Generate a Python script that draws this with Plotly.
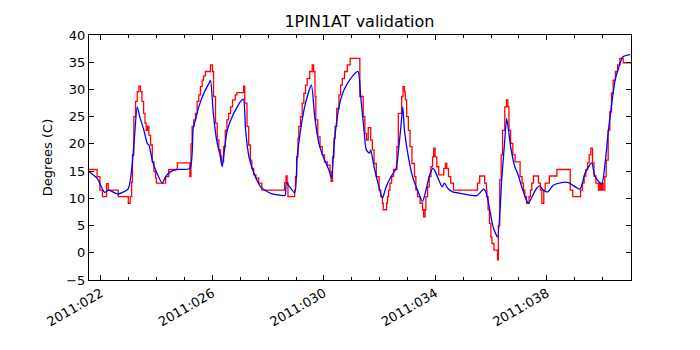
import plotly.graph_objects as go

# day of year 2011 (fractional) vs temperature
red_day = [21.57, 21.86, 21.96, 22.05, 22.20, 22.26, 22.62, 22.98, 23.05, 23.10,
           23.13, 23.18, 23.24, 23.30, 23.36, 23.42, 23.47, 23.53, 23.58, 23.62,
           23.67, 23.72, 23.78, 23.84, 23.90, 23.96, 23.99, 24.32, 24.43, 24.74,
           25.19, 25.23, 25.27, 25.33, 25.39, 25.45, 25.51, 25.57, 25.63, 25.68,
           25.75, 25.93, 26.00, 26.04, 26.11, 26.17, 26.23, 26.29, 26.33, 26.40,
           26.46, 26.52, 26.58, 26.65, 26.72, 26.82, 26.88, 27.12, 27.16, 27.24,
           27.30, 27.36, 27.41, 27.48, 27.56, 27.66, 27.77, 28.59, 28.64, 28.68,
           28.71, 28.95, 28.98, 29.02, 29.07, 29.10, 29.16, 29.22, 29.28, 29.34,
           29.40, 29.49, 29.58, 29.63, 29.68, 29.71, 29.78, 29.86, 29.94, 30.02,
           30.12, 30.22, 30.26, 30.31, 30.36, 30.40, 30.46, 30.54, 30.60, 30.66,
           30.74, 30.84, 30.94, 31.29, 31.41, 31.47, 31.53, 31.59, 31.68, 31.74,
           31.80, 31.88, 31.98, 32.04, 32.10, 32.13, 32.25, 32.28, 32.32, 32.37,
           32.43, 32.50, 32.62, 32.67, 32.79, 32.84, 32.89, 32.92, 32.97, 33.03,
           33.09, 33.16, 33.25, 33.30, 33.36, 33.45, 33.54, 33.58, 33.63, 33.66,
           33.72, 33.78, 33.84, 33.90, 33.94, 33.99, 34.05, 34.12, 34.30, 34.36,
           34.41, 34.47, 34.55, 34.65, 35.51, 35.59, 35.77, 35.83, 35.85, 35.89,
           35.94, 35.99, 36.03, 36.10, 36.23, 36.26, 36.31, 36.36, 36.41, 36.49,
           36.55, 36.60, 36.64, 36.70, 36.78, 36.86, 37.04, 37.11, 37.16, 37.21,
           37.27, 37.36, 37.41, 37.46, 37.52, 37.70, 37.77, 37.82, 37.89, 37.94,
           38.09, 38.36, 38.84, 38.93, 39.21, 39.28, 39.34, 39.40, 39.46, 39.52,
           39.58, 39.64, 39.69, 39.76, 39.85, 39.90, 39.94, 39.98, 40.02, 40.08,
           40.13, 40.20, 40.26, 40.32, 40.38, 40.46, 40.54, 40.62, 40.74, 41.02]
red_temp = [15.3, 14.0, 11.5, 10.3, 12.7, 11.5, 10.3, 9.1, 10.3, 13.0,
            18.0, 25.0, 27.8, 29.6, 30.6, 29.6, 27.8, 25.6, 23.8, 22.5,
            23.2, 21.6, 19.8, 16.7, 14.9, 13.7, 12.8, 14.0, 15.3, 16.5,
            14.0, 20.0, 23.2, 24.4, 25.6, 27.8, 29.0, 30.5, 31.7, 32.5,
            33.3, 34.5, 33.3, 28.7, 23.8, 20.7, 18.9, 17.8, 16.7, 19.5,
            22.5, 24.4, 25.6, 26.8, 28.1, 29.0, 29.4, 30.6, 27.5, 23.2,
            19.8, 17.0, 15.5, 14.3, 13.7, 12.8, 11.5, 12.9, 14.1, 12.9,
            10.3, 11.5, 14.0, 17.6, 21.0, 23.2, 25.0, 27.5, 29.3, 30.8,
            32.0, 33.3, 34.5, 33.3, 28.7, 24.4, 21.3, 19.5, 18.0, 16.7,
            16.1, 14.9, 13.1, 17.6, 21.0, 23.2, 26.5, 29.0, 30.8, 32.0,
            33.3, 34.5, 35.7, 28.7, 25.0, 21.9, 20.7, 23.0, 20.7, 18.9,
            16.4, 14.0, 11.5, 10.3, 9.1, 7.9, 9.1, 10.3, 11.5, 12.8,
            14.0, 15.3, 19.5, 25.6, 28.7, 30.5, 29.6, 28.1, 25.0, 22.5,
            19.5, 16.4, 14.0, 11.5, 10.3, 9.1, 7.9, 6.6, 7.9, 10.3,
            12.1, 14.0, 15.8, 17.6, 19.2, 17.6, 15.8, 14.3, 15.5, 16.4,
            15.5, 14.0, 12.8, 11.5, 12.8, 14.1, 12.8, 11.5, 10.3, 7.9,
            5.4, 2.9, 1.7, 0.5, -1.3, 5.0, 13.4, 18.0, 22.5, 26.8,
            28.1, 26.8, 22.5, 20.1, 18.0, 16.7, 14.0, 12.8, 11.5, 10.3,
            9.1, 10.3, 11.5, 12.8, 14.1, 12.8, 11.5, 9.1, 11.5, 12.8,
            14.1, 15.3, 11.5, 10.3, 11.5, 12.8, 14.1, 15.3, 16.5, 18.0,
            19.2, 16.5, 14.1, 12.8, 11.5, 12.8, 11.5, 12.8, 11.5, 14.0,
            17.0, 22.5, 25.9, 29.3, 31.7, 33.3, 34.5, 35.7, 34.9, 34.9]

blue_day = [21.57, 21.86, 22.13, 22.28, 22.60, 22.98, 23.30, 23.39, 23.54, 23.66,
            23.72, 23.84, 23.96, 24.20, 24.32, 24.50, 24.74, 25.19, 25.31, 25.39,
            25.51, 25.69, 25.87, 25.93, 26.03, 26.15, 26.27, 26.35, 26.41, 26.53,
            26.71, 26.89, 27.01, 27.11, 27.19, 27.31, 27.49, 27.73, 28.09, 28.54,
            28.61, 28.66, 28.95, 29.04, 29.16, 29.34, 29.55, 29.67, 29.82, 30.00,
            30.18, 30.27, 30.38, 30.54, 30.72, 30.96, 31.22, 31.32, 31.44, 31.52,
            31.64, 31.68, 31.80, 31.94, 32.10, 32.23, 32.41, 32.59, 32.69, 32.75,
            32.83, 32.89, 33.03, 33.18, 33.36, 33.54, 33.69, 33.78, 33.90, 33.97,
            34.12, 34.24, 34.33, 34.45, 34.62, 34.81, 35.49, 35.73, 35.83, 35.95,
            36.07, 36.23, 36.38, 36.49, 36.56, 36.70, 36.85, 36.95, 37.10, 37.24,
            37.34, 37.47, 37.63, 37.75, 37.87, 38.04, 38.23, 38.53, 38.77, 39.19,
            39.37, 39.61, 39.73, 39.97, 40.09, 40.21, 40.33, 40.45, 40.57, 40.73, 40.99]
blue_temp = [14.9, 13.7, 11.1, 11.5, 10.8, 11.8, 26.8, 25.0, 22.5, 20.1,
             19.8, 17.0, 15.2, 12.8, 14.0, 14.9, 15.3, 15.5, 22.9, 24.4,
             26.8, 29.3, 31.1, 31.7, 25.6, 20.7, 18.0, 15.8, 18.0, 22.5,
             25.0, 26.8, 27.8, 28.2, 22.5, 17.6, 14.6, 12.1, 10.9, 10.5,
             10.6, 12.8, 11.0, 17.6, 22.5, 27.5, 30.8, 25.0, 20.1, 17.3,
             15.2, 13.7, 20.7, 26.8, 29.9, 32.0, 33.3, 28.7, 22.5, 18.9,
             18.3, 18.9, 15.8, 12.8, 10.0, 12.1, 14.0, 15.5, 19.5, 22.5,
             26.8, 22.5, 17.6, 14.0, 11.5, 9.4, 12.1, 14.0, 15.5, 15.2,
             13.4, 12.1, 12.8, 11.8, 11.2, 11.0, 10.5, 11.7, 10.9, 7.9,
             4.8, 2.9, 13.4, 20.7, 24.7, 19.5, 15.8, 14.6, 12.1, 10.0,
             9.1, 10.3, 11.8, 12.3, 11.5, 11.2, 12.4, 12.9, 12.9, 11.7,
             14.6, 16.5, 14.0, 12.6, 16.4, 22.5, 27.5, 31.7, 33.9, 36.0, 36.4]

tick_days = [22, 26, 30, 34, 38]
tick_text = ["2011:022", "2011:026", "2011:030", "2011:034", "2011:038"]

fig = go.Figure()

# telemetry (quantized) in red, model in blue on top
fig.add_trace(go.Scatter(x=red_day, y=red_temp, mode="lines",
                         line=dict(color="#ff0000", width=1.3, shape="hv"),
                         showlegend=False))
fig.add_trace(go.Scatter(x=blue_day, y=blue_temp, mode="lines",
                         line=dict(color="#0000ff", width=1.3, shape="spline", smoothing=0.6),
                         showlegend=False))

axis_common = dict(showline=True, linecolor="black", linewidth=1, mirror="allticks",
                   ticks="inside", ticklen=5, tickcolor="black", showgrid=False,
                   zeroline=False, automargin=False,
                   tickfont=dict(size=13, color="black"))

# the page body adds 8px, so margins are pulled in by that much
fig.update_layout(
    width=700, height=350,
    margin=dict(l=81, r=77, t=27, b=78),
    paper_bgcolor="white", plot_bgcolor="white",
    font=dict(family="DejaVu Sans", color="black"),
    title=dict(text="1PIN1AT validation", x=0.502, xanchor="center",
               y=0.962, yanchor="middle", font=dict(size=16)),
    xaxis=dict(range=[21.57, 41.02], tickvals=tick_days, ticktext=tick_text,
               tickangle=-30,
               minor=dict(dtick=1, tick0=22, ticks="inside", ticklen=3,
                          tickcolor="black", showgrid=False),
               **axis_common),
    yaxis=dict(range=[-5, 40], dtick=5, tick0=0,
               title=dict(text="Degrees (C)", font=dict(size=13), standoff=10),
               **axis_common),
)

fig.write_html("out.html")
